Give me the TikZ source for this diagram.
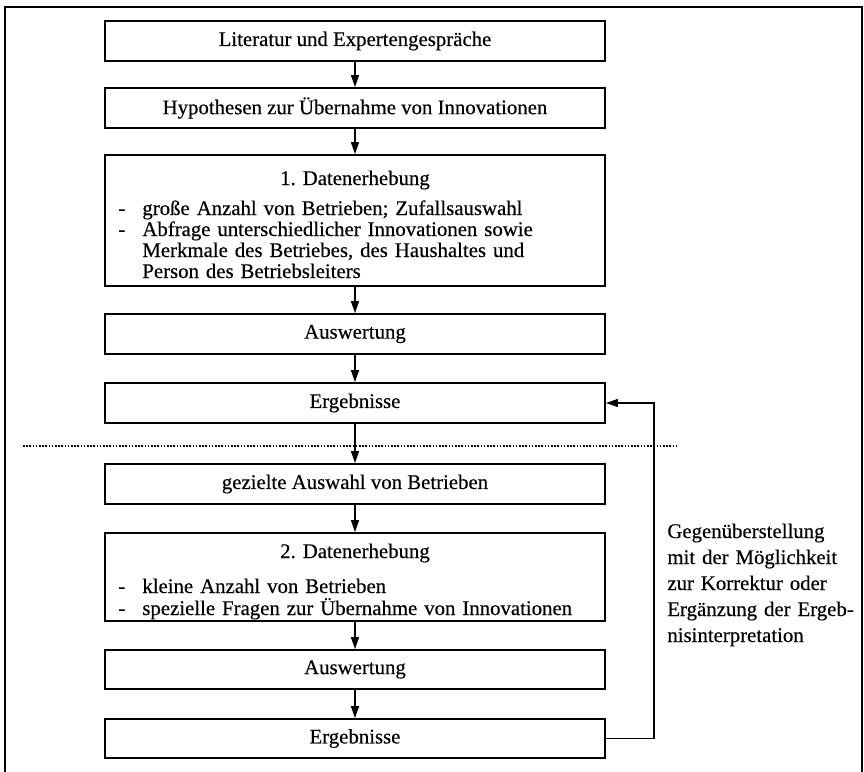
\documentclass[tikz,border=0pt]{standalone}
\usepackage{fontspec}
\setmainfont{Liberation Serif}[FakeBold=0.35]
\usetikzlibrary{arrows.meta,positioning}
\newcommand{\strich}{\makebox[12pt][l]{-}}
\newcommand{\einzug}{\hspace*{12pt}}

\begin{document}
\begin{tikzpicture}[x=0.5pt,y=-0.5pt,
  box/.style={draw,line width=0.9pt,minimum width=250pt,inner sep=0pt,
    font=\fontsize{10.4}{12}\selectfont},
  liste/.style={inner sep=0pt,align=left,anchor=base west,text width=240pt},
  pfeil/.style={-{Triangle[length=6pt,width=4pt]},line width=0.65pt}]
\useasboundingbox (0,0) rectangle (864,772);
% outer frame, open at the bottom
\draw[line width=1.3pt] (5,772) -- (5,7) -- (862,7) -- (862,772);
% first part: literature and first survey
\node[box,minimum height=20pt] (lit) at (355,41) {Literatur und Expertengespräche};
\node[box,minimum height=20pt] (hyp) at (355,108) {Hypothesen zur Übernahme von Innovationen};
\node[box,minimum height=65.5pt] (erh1) at (355,220.5) {};
\node[anchor=base,inner sep=0pt,font=\fontsize{10.4}{12}\selectfont] (titel1) at (355,185) {1. Datenerhebung};
\node[liste,font=\fontsize{10.4}{10.5}\selectfont] (punkte1) at (118,215)
  {\strich große Anzahl von Betrieben; Zufallsauswahl\\
   \strich Abfrage unterschiedlicher Innovationen sowie\\
   \einzug Merkmale des Betriebes, des Haushaltes und\\
   \einzug Person des Betriebsleiters};
\node[box,minimum height=20pt] (aus1) at (355,334) {Auswertung};
\node[box,minimum height=20pt] (erg1) at (355,403) {Ergebnisse};
% separator
\coordinate (trennL) at (23,446);
\coordinate (trennR) at (677,446);
\draw[line width=0.75pt,dash pattern=on 0.75pt off 0.85pt] (trennL) -- (trennR);
% second part: second survey
\node[box,minimum height=20pt] (gez) at (355,484) {gezielte Auswahl von Betrieben};
\node[box,minimum height=44pt] (erh2) at (355,577) {};
\node[anchor=base,inner sep=0pt,font=\fontsize{10.4}{12}\selectfont] (titel2) at (355,558) {2. Datenerhebung};
\node[liste,font=\fontsize{10.4}{11}\selectfont] (punkte2) at (118,593)
  {\strich kleine Anzahl von Betrieben\\
   \strich spezielle Fragen zur Übernahme von Innovationen};
\node[box,minimum height=19.5pt] (aus2) at (355,669.5) {Auswertung};
\node[box,minimum height=19.5pt] (erg2) at (355,738.5) {Ergebnisse};
% flow
\foreach \a/\b in {lit/hyp,hyp/erh1,erh1/aus1,aus1/erg1,erg1/gez,gez/erh2,erh2/aus2,aus2/erg2}
  \draw[pfeil] (\a) -- (\b);
% feedback loop
\draw[pfeil] (erg2.east) -- ++(48,0) |- (erg1.east);
\node[liste,text width=110pt,font=\fontsize{10.4}{13}\selectfont] (rueck) at (667,538)
  {Gegenüberstellung\\ mit der Möglichkeit\\ zur Korrektur oder\\ Ergänzung der Ergeb-\\ nisinterpretation};
\end{tikzpicture}
\end{document}
